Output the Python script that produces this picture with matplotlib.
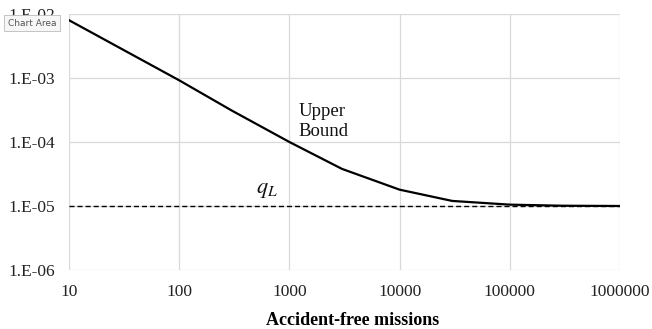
import matplotlib
matplotlib.use("Agg")
import matplotlib.pyplot as plt
import matplotlib.ticker as mticker

# afleste verdier
missions = [10, 30, 100, 300, 1000, 3000, 10000, 30000, 100000, 300000, 1000000]
upper_bound = [8.0e-3, 2.85e-3, 9.2e-4, 3.1e-4, 1.0e-4, 3.8e-5, 1.8e-5, 1.2e-5, 1.05e-5, 1.01e-5, 1.0e-5]
q_L = 1e-5
x_ticks = [10, 100, 1000, 10000, 100000, 1000000]
y_ticks = [1e-6, 1e-5, 1e-4, 1e-3, 1e-2]
y_tick_labels = ["1.E-06", "1.E-05", "1.E-04", "1.E-03", "1.E-02"]

plt.rcParams["font.family"] = ["Liberation Serif", "DejaVu Serif"]
plt.rcParams["mathtext.fontset"] = "stix"

fig = plt.figure(figsize=(6.52, 3.29), dpi=100)
ax = fig.add_axes([69 / 652, 1 - 270 / 329, 551 / 652, 256 / 329])

ax.plot([missions[0], missions[-1]], [q_L, q_L], color="black", lw=1.0,
        dashes=(3.6, 2.2), zorder=3)
ax.plot(missions, upper_bound, color="black", lw=1.6, zorder=4)

ax.set_xscale("log")
ax.set_yscale("log")
ax.set_xlim(10, 1e6)
ax.set_ylim(1e-6, 1e-2)

ax.set_xticks(x_ticks)
ax.xaxis.set_major_formatter(mticker.FuncFormatter(lambda v, p: f"{int(round(v))}"))
ax.set_yticks(y_ticks)
ax.set_yticklabels(y_tick_labels)
ax.xaxis.set_minor_locator(mticker.NullLocator())
ax.yaxis.set_minor_locator(mticker.NullLocator())
ax.tick_params(length=0, labelsize=12.5, colors="#222222")
ax.tick_params(axis="x", pad=10)
ax.tick_params(axis="y", pad=10)

ax.grid(True, color="#d9d9d9", lw=0.9)
ax.set_axisbelow(True)
for s in ax.spines.values():
    s.set_visible(False)

ax.set_xlabel("Accident-free missions", fontsize=13, fontweight="bold")
ax.xaxis.set_label_coords(0.514, -0.165)

ax.text(1200, 2.1e-4, "Upper\nBound", fontsize=13.5, color="#111111",
        linespacing=1.25, va="center", ha="left")
ax.text(620, 1.75e-5, "$q_L$", fontsize=16, color="#111111", ha="center", va="center")

# Excel-tooltip øverst til venstre
fig.text(8 / 652, 1 - 23 / 329, "Chart Area", family="DejaVu Sans", fontsize=6.5,
         color="#555555", va="center", ha="left",
         bbox=dict(boxstyle="square,pad=0.4", fc="#f7f7f7", ec="#bbbbbb", lw=0.6))

fig.savefig("out.png", dpi=100)
